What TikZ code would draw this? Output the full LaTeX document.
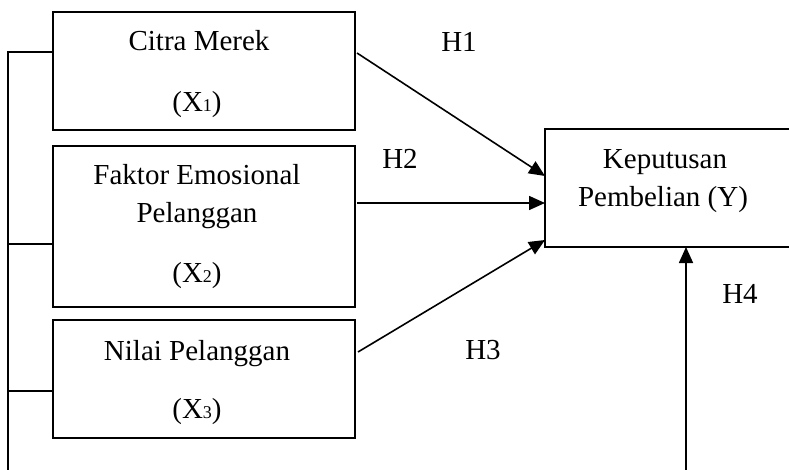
\documentclass[tikz,border=0pt]{standalone}
\usepackage{fontspec}
\setmainfont{Liberation Serif}
\usetikzlibrary{calc,positioning,arrows.meta}
\newcommand{\xidx}[1]{{\fontsize{18}{18}\selectfont #1}}
\tikzset{
	varbox/.style={draw,rectangle,line width=1.6pt,inner sep=0pt,outer sep=0pt},
	txt/.style={anchor=base,inner sep=0pt,font=\fontsize{29}{35}\selectfont},
	ln/.style={line width=1.6pt},
	arr/.style={line width=1.6pt,-{Triangle[length=16pt,width=14pt]}},
}
\begin{document}
\begin{tikzpicture}[x=1pt,y=-1pt]
				 %\draw[color=gray,step=10pt, help lines,opacity=0.3] (0,0) grid (789,470); %help grids
				\clip (0,0) rectangle (789,470);
				% variabel bebas
				\node[varbox,minimum width=302pt,minimum height=118pt] (x1) at (204,71) {};
				\node[varbox,minimum width=302pt,minimum height=161pt] (x2) at (204,226.5) {};
				\node[varbox,minimum width=302pt,minimum height=118pt] (x3) at (204,379) {};
				\node[varbox,minimum width=250pt,minimum height=118pt] (ky) at (670,188) {};
				\node[txt] (t1a) at (199,51) {Citra Merek};
				\node[txt] (t1b) at (197,112) {(X\xidx{1})};
				\node[txt] (t2a) at (197,185) {Faktor Emosional};
				\node[txt] (t2b) at (197,223) {Pelanggan};
				\node[txt] (t2c) at (197,282) {(X\xidx{2})};
				\node[txt] (t3a) at (197,360) {Nilai Pelanggan};
				\node[txt] (t3b) at (197,418) {(X\xidx{3})};
				\node[txt] (tya) at (665,169) {Keputusan};
				\node[txt] (tyb) at (663,207) {Pembelian (Y)};
				% hipotesis
				\node[txt] (h1) at (459,52) {H1};
				\node[txt] (h2) at (400,169) {H2};
				\node[txt] (h3) at (483,359) {H3};
				\node[txt] (h4) at (740,303) {H4};
				% garis simultan
				\coordinate (bus) at (8,470);
				\coordinate (h4foot) at (686,470);
				\draw[ln] (bus) |- ($(x1.north west)+(0,40)$);
				\draw[ln] (bus |- x2.center) ++(0,17.5) -- ($(x2.north west)+(0,98)$);
				\draw[ln] (bus |- x3.center) ++(0,12) -- ($(x3.north west)+(0,71)$);
				\draw[arr] ($(x1.north east)+(2,41)$)--($(ky.north west)+(0,47)$);
				\draw[arr] ($(x2.north east)+(2,57)$)--($(ky.north west)+(0,74)$);
				\draw[arr] ($(x3.north east)+(3,32)$)--($(ky.north west)+(0,111)$);
				\draw[arr] (h4foot)--(h4foot |- ky.south);
\end{tikzpicture}
\end{document}
